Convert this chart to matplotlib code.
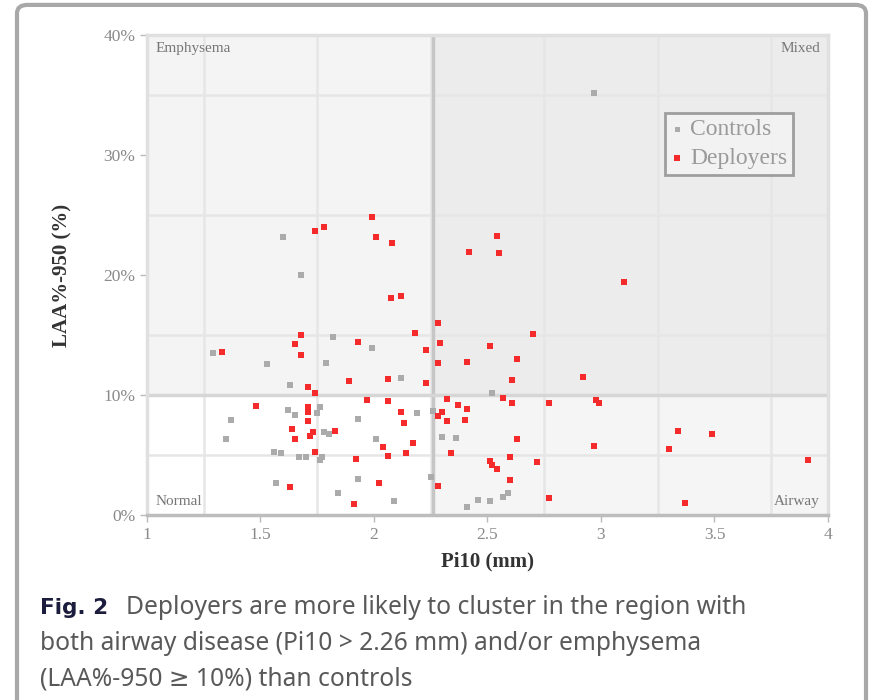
import matplotlib
matplotlib.use('Agg')
import matplotlib.pyplot as plt
from matplotlib.patches import Rectangle, FancyBboxPatch
import numpy as np

plt.rcParams.update({
    'font.family': 'Liberation Serif',
    'font.size': 10,
})

# Pi10 (mm) and LAA%-950 (%)
controls_x = [1.60, 1.68, 1.82, 1.29, 1.99, 1.53, 1.79, 2.12, 2.52, 1.63, 1.62, 1.65,
              1.76, 1.75, 1.37, 1.78, 1.80, 1.35, 1.56, 1.59, 1.67, 1.70, 1.77, 1.76,
              1.57, 1.84, 2.19, 2.26, 1.93, 2.01, 2.30, 2.36, 1.93, 2.25, 2.09, 2.46,
              2.51, 2.57, 2.59, 2.41, 2.97]
controls_y = [23.2, 20.0, 14.8, 13.5, 13.9, 12.6, 12.7, 11.4, 10.2, 10.8, 8.75, 8.3,
              9.0, 8.5, 7.9, 6.9, 6.75, 6.3, 5.25, 5.2, 4.8, 4.8, 4.8, 4.6,
              2.65, 1.8, 8.5, 8.7, 8.0, 6.3, 6.5, 6.4, 3.0, 3.2, 1.2, 1.25,
              1.2, 1.5, 1.8, 0.7, 35.2]

deployers_x = [1.33, 1.74, 1.78, 1.99, 2.01, 2.08, 2.42, 2.54, 2.55, 3.10, 1.68, 1.65,
               1.68, 2.075, 2.12, 2.28, 2.18, 1.93, 2.29, 2.23, 2.51, 2.63, 2.41, 2.28,
               2.70, 1.89, 2.06, 2.23, 2.61, 2.92, 1.97, 2.06, 2.32, 2.37, 2.41, 2.57,
               2.61, 2.77, 2.98, 2.99, 2.12, 2.30, 2.28, 2.32, 2.40, 1.83, 2.13, 2.17,
               2.04, 2.06, 2.14, 2.63, 2.34, 1.92, 2.51, 2.54, 2.60, 2.52, 2.72, 2.02,
               2.28, 2.60, 1.91, 2.77, 3.37, 2.97, 3.34, 3.49, 3.30, 3.91, 1.71, 1.74,
               1.48, 1.71, 1.71, 1.71, 1.64, 1.73, 1.72, 1.65, 1.74, 1.63]
deployers_y = [13.6, 23.7, 24.0, 24.8, 23.2, 22.7, 21.9, 23.25, 21.8, 19.4, 15.0, 14.25,
               13.3, 18.1, 18.25, 16.0, 15.2, 14.4, 14.3, 13.75, 14.1, 13.0, 12.75, 12.7,
               15.1, 11.2, 11.3, 11.0, 11.25, 11.5, 9.6, 9.5, 9.7, 9.2, 8.8, 9.75,
               9.3, 9.3, 9.6, 9.3, 8.6, 8.6, 8.25, 7.8, 7.9, 7.0, 7.7, 6.0,
               5.7, 4.9, 5.2, 6.3, 5.2, 4.7, 4.5, 3.8, 4.8, 4.2, 4.4, 2.7,
               2.4, 2.9, 0.9, 1.4, 1.0, 5.75, 7.0, 6.75, 5.5, 4.6, 10.7, 10.2,
               9.1, 9.0, 8.6, 7.8, 7.2, 6.9, 6.6, 6.3, 5.25, 2.3]

pi10_cut = 2.26
laa_cut = 10
x_ticks = [1, 1.5, 2, 2.5, 3, 3.5, 4]
y_ticks = [0, 10, 20, 30, 40]
quadrants = ['Emphysema', 'Mixed', 'Normal', 'Airway']

fig = plt.figure(figsize=(8.7, 7.0), dpi=100)
ax = fig.add_axes([147 / 870, 185 / 700, 681 / 870, 480 / 700])

# quadrant shading
ax.add_patch(Rectangle((1, laa_cut), pi10_cut - 1, 40 - laa_cut, color='#f4f4f4', zorder=0))
ax.add_patch(Rectangle((pi10_cut, laa_cut), 4 - pi10_cut, 40 - laa_cut, color='#ececec', zorder=0))
ax.add_patch(Rectangle((pi10_cut, 0), 4 - pi10_cut, laa_cut, color='#f5f5f5', zorder=0))

ax.set_xticks(np.arange(1, 4.01, 0.25), minor=True)
ax.set_yticks(np.arange(0, 40.1, 5), minor=True)
ax.grid(which='minor', color='#e6e6e6', lw=1.8, zorder=1)
ax.axvline(pi10_cut, color='#c6c6c6', lw=2.5, zorder=2)
ax.axhline(laa_cut, color='#d6d6d6', lw=2.5, zorder=2)

ax.scatter(controls_x, controls_y, s=16, marker='s', color='#ababab', lw=0,
           label='Controls', zorder=3)
ax.scatter(deployers_x, deployers_y, s=18, marker='s', color='#f52a2a', lw=0,
           label='Deployers', zorder=4)

ax.set_xlim(1, 4)
ax.set_ylim(0, 40)
ax.set_xticks(x_ticks)
ax.set_xticklabels([f'{t:g}' for t in x_ticks])
ax.set_yticks(y_ticks)
ax.set_yticklabels([f'{t}%' for t in y_ticks])
ax.tick_params(which='major', colors='#bbbbbb', labelcolor='#8a8a8a', labelsize=12.5,
               length=5, width=1)
ax.tick_params(which='minor', length=0)

for side in ['top', 'right', 'left']:
    ax.spines[side].set_color('#e0e0e0')
    ax.spines[side].set_linewidth(2.5)
ax.spines['bottom'].set_color('#bdbdbd')
ax.spines['bottom'].set_linewidth(2.5)

ax.set_xlabel('Pi10 (mm)', fontsize=15, fontweight='bold', color='#333333', labelpad=6)
ax.set_ylabel('LAA%-950 (%)', fontsize=15, fontweight='bold', color='#333333', labelpad=22)

qkw = dict(fontsize=11, color='#777777', zorder=5)
ax.text(0.012, 0.985, quadrants[0], transform=ax.transAxes, ha='left', va='top', **qkw)
ax.text(0.988, 0.985, quadrants[1], transform=ax.transAxes, ha='right', va='top', **qkw)
ax.text(0.012, 0.015, quadrants[2], transform=ax.transAxes, ha='left', va='bottom', **qkw)
ax.text(0.988, 0.015, quadrants[3], transform=ax.transAxes, ha='right', va='bottom', **qkw)

leg = ax.legend(loc='upper right', bbox_to_anchor=(0.949, 0.838), fontsize=17,
                frameon=True, fancybox=False, markerscale=0.9, handletextpad=0.3,
                handlelength=0.5, borderpad=0.25, labelspacing=0.3, borderaxespad=0)
leg.get_frame().set_edgecolor('#8a8a8a')
leg.get_frame().set_linewidth(2)
leg.get_frame().set_facecolor('#f4f4f4')
for t in leg.get_texts():
    t.set_color('#9a9a9a')

# page frame around the figure
frame = FancyBboxPatch((17 / 870, -0.05), 849 / 870, 1.043, transform=fig.transFigure,
                       boxstyle='round,pad=0,rounding_size=0.012', fill=False,
                       edgecolor='#a8a8a8', lw=3, zorder=0)
fig.patches.append(frame)

# caption
cap_fam = ['Noto Sans', 'DejaVu Sans']
cap_kw = dict(fontsize=17.7, family=cap_fam, color='#595959', va='center')
fig.text(40 / 870, 1 - 608 / 700, 'Fig. 2', fontsize=15.5, family=['DejaVu Sans'],
         fontweight='bold', color='#1c1c3c', va='center')
fig.text(126 / 870, 1 - 608 / 700, 'Deployers are more likely to cluster in the region with',
         **cap_kw)
fig.text(40 / 870, 1 - 643 / 700, 'both airway disease (Pi10 > 2.26 mm) and/or emphysema',
         **cap_kw)
fig.text(40 / 870, 1 - 679 / 700, '(LAA%-950 \u2265 10%) than controls', **cap_kw)

fig.savefig('out.png', dpi=100)
